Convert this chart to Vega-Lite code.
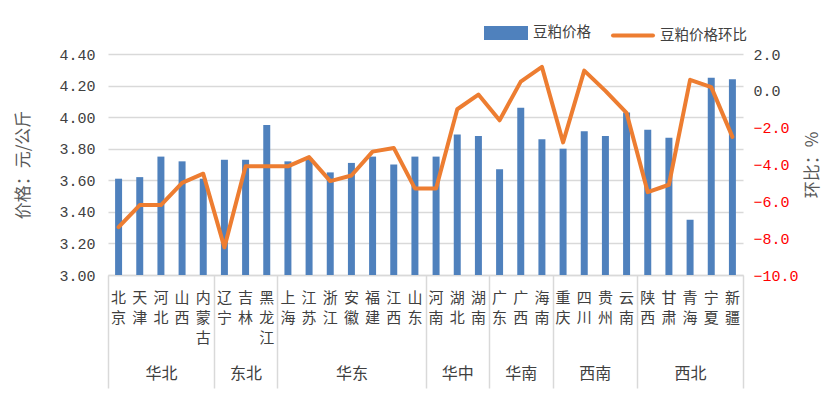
{
  "$schema": "https://vega.github.io/schema/vega-lite/v6.json",
  "width": 635,
  "height": 221,
  "autosize": {"type": "none"},
  "padding": {"left": 108, "top": 54, "right": 90, "bottom": 119},
  "background": "white",
  "config": {
    "view": {"stroke": null},
    "font": "Noto Sans CJK SC"
  },
  "data": {
    "values": [
      {"province": "北京", "region": "华北", "price": 3.61, "mom": -7.4},
      {"province": "天津", "region": "华北", "price": 3.62, "mom": -6.2},
      {"province": "河北", "region": "华北", "price": 3.75, "mom": -6.2},
      {"province": "山西", "region": "华北", "price": 3.72, "mom": -5.0},
      {"province": "内蒙古", "region": "华北", "price": 3.61, "mom": -4.5},
      {"province": "辽宁", "region": "东北", "price": 3.73, "mom": -8.5},
      {"province": "吉林", "region": "东北", "price": 3.73, "mom": -4.1},
      {"province": "黑龙江", "region": "东北", "price": 3.95, "mom": -4.1},
      {"province": "上海", "region": "华东", "price": 3.72, "mom": -4.1},
      {"province": "江苏", "region": "华东", "price": 3.74, "mom": -3.6},
      {"province": "浙江", "region": "华东", "price": 3.65, "mom": -4.9},
      {"province": "安徽", "region": "华东", "price": 3.71, "mom": -4.6},
      {"province": "福建", "region": "华东", "price": 3.75, "mom": -3.3},
      {"province": "江西", "region": "华东", "price": 3.70, "mom": -3.1},
      {"province": "山东", "region": "华东", "price": 3.75, "mom": -5.3},
      {"province": "河南", "region": "华中", "price": 3.75, "mom": -5.3},
      {"province": "湖北", "region": "华中", "price": 3.89, "mom": -1.0},
      {"province": "湖南", "region": "华中", "price": 3.88, "mom": -0.2},
      {"province": "广东", "region": "华南", "price": 3.67, "mom": -1.6},
      {"province": "广西", "region": "华南", "price": 4.06, "mom": 0.5},
      {"province": "海南", "region": "华南", "price": 3.86, "mom": 1.3},
      {"province": "重庆", "region": "西南", "price": 3.80, "mom": -2.8},
      {"province": "四川", "region": "西南", "price": 3.91, "mom": 1.1},
      {"province": "贵州", "region": "西南", "price": 3.88, "mom": 0.0},
      {"province": "云南", "region": "西南", "price": 4.03, "mom": -1.2},
      {"province": "陕西", "region": "西北", "price": 3.92, "mom": -5.5},
      {"province": "甘肃", "region": "西北", "price": 3.87, "mom": -5.1},
      {"province": "青海", "region": "西北", "price": 3.35, "mom": 0.6},
      {"province": "宁夏", "region": "西北", "price": 4.25, "mom": 0.2},
      {"province": "新疆", "region": "西北", "price": 4.24, "mom": -2.5}
    ]
  },
  "layer": [
    {
      "mark": {"type": "bar", "width": {"band": 0.33}},
      "encoding": {
        "x": {
          "field": "province", "type": "nominal", "sort": null,
          "scale": {"paddingInner": 0, "paddingOuter": 0},
          "axis": {
            "orient": "bottom", "title": null, "labelAngle": 0, "labelExpr": "split(datum.label, '')",
            "labelFont": "Noto Sans CJK SC", "labelFontSize": 15, "labelLineHeight": 20,
            "labelColor": "#404040", "labelPadding": 15, "labelOverlap": false,
            "ticks": false, "domainColor": "#d9d9d9", "domainWidth": 1.3, "grid": false
          }
        },
        "y": {
          "field": "price", "type": "quantitative",
          "scale": {"domain": [3.0, 4.4], "zero": false, "nice": false, "clamp": true},
          "axis": {
            "title": "价格：元/公斤", "titleFont": "Noto Sans CJK SC", "titleFontSize": 17,
            "titleFontWeight": "normal", "titleColor": "#595959", "titlePadding": 26,
            "values": [3.0, 3.2, 3.4, 3.6, 3.8, 4.0, 4.2, 4.4], "format": ".2f",
            "labelFont": "Liberation Mono", "labelFontSize": 15, "labelColor": "#404040",
            "labelPadding": 13, "ticks": false, "domain": false,
            "grid": true, "gridColor": "#d9d9d9", "gridWidth": 1.3
          }
        },
        "color": {
          "datum": "豆粕价格",
          "scale": {"domain": ["豆粕价格", "豆粕价格环比"], "range": ["#4F81BD", "#ED7D31"]},
          "legend": {
            "orient": "none", "legendX": 376, "legendY": -43, "direction": "horizontal",
            "title": null, "padding": 0, "labelFont": "Noto Sans CJK SC", "labelFontSize": 14.5,
            "labelColor": "#404040", "symbolSize": 1600, "labelOffset": 5, "columnPadding": 14,
            "encode": {
              "symbols": {
                "update": {
                  "shape": {"signal": "datum.value === '豆粕价格' ? 'M-1,-0.25H1V0.25H-1Z' : 'M-1,0H1'"},
                  "fill": {"signal": "datum.value === '豆粕价格' ? '#4F81BD' : 'transparent'"},
                  "stroke": {"signal": "datum.value === '豆粕价格' ? 'transparent' : '#ED7D31'"},
                  "strokeWidth": {"value": 4},
                  "strokeCap": {"value": "round"},
                  "opacity": {"value": 1}
                }
              }
            }
          }
        }
      }
    },
    {
      "mark": {"type": "line", "strokeWidth": 4, "strokeJoin": "round", "strokeCap": "round"},
      "encoding": {
        "x": {
          "field": "province", "type": "nominal", "sort": null,
          "scale": {"paddingInner": 0, "paddingOuter": 0},
          "axis": null
        },
        "y": {
          "field": "mom", "type": "quantitative",
          "scale": {"domain": [-10, 2], "nice": false, "zero": false},
          "axis": {
            "orient": "right", "title": "环比：%", "titleFont": "Noto Sans CJK SC",
            "titleFontSize": 17, "titleFontWeight": "normal", "titleColor": "#595959",
            "titleAngle": 270, "titleBaseline": "top", "titlePadding": 6,
            "values": [-10, -8, -6, -4, -2, 0, 2], "format": ".1f",
            "labelFont": "Liberation Mono", "labelFontSize": 15, "labelPadding": 10,
            "labelColor": {"condition": {"test": "datum.value < 0", "value": "#ff0000"}, "value": "#404040"},
            "ticks": false, "domain": false, "grid": false
          }
        },
        "color": {"datum": "豆粕价格环比"}
      }
    },
    {
      "data": {
        "values": [
          {"region": "华北", "mid": 2.5},
          {"region": "东北", "mid": 6.5},
          {"region": "华东", "mid": 11.5},
          {"region": "华中", "mid": 16.5},
          {"region": "华南", "mid": 19.5},
          {"region": "西南", "mid": 23},
          {"region": "西北", "mid": 27.5}
        ]
      },
      "mark": {"type": "point", "opacity": 0},
      "encoding": {
        "x": {
          "field": "mid", "type": "quantitative",
          "scale": {"domain": [0, 30], "nice": false, "zero": false},
          "axis": {
            "orient": "bottom", "title": null, "values": [2.5, 6.5, 11.5, 16.5, 19.5, 23, 27.5],
            "labelExpr": "datum.value < 4 ? '华北' : datum.value < 8 ? '东北' : datum.value < 15 ? '华东' : datum.value < 18 ? '华中' : datum.value < 21 ? '华南' : datum.value < 25 ? '西南' : '西北'",
            "labelFont": "Noto Sans CJK SC", "labelFontSize": 16, "labelColor": "#404040",
            "labelPadding": 90, "ticks": false, "domain": false, "grid": false, "labelOverlap": false
          }
        }
      }
    },
    {
      "data": {
        "values": [
          {"edge": 0}, {"edge": 5}, {"edge": 8}, {"edge": 15},
          {"edge": 18}, {"edge": 21}, {"edge": 25}, {"edge": 30}
        ]
      },
      "mark": {"type": "point", "opacity": 0},
      "encoding": {
        "x": {
          "field": "edge", "type": "quantitative",
          "scale": {"domain": [0, 30], "nice": false, "zero": false},
          "axis": {
            "orient": "bottom", "title": null, "values": [0, 5, 8, 15, 18, 21, 25, 30],
            "labels": false, "ticks": true, "tickSize": 113, "tickColor": "#d9d9d9",
            "tickWidth": 1.5, "domain": false, "grid": false
          }
        }
      }
    }
  ],
  "resolve": {"scale": {"x": "independent", "y": "independent"}, "axis": {"x": "independent"}}
}
